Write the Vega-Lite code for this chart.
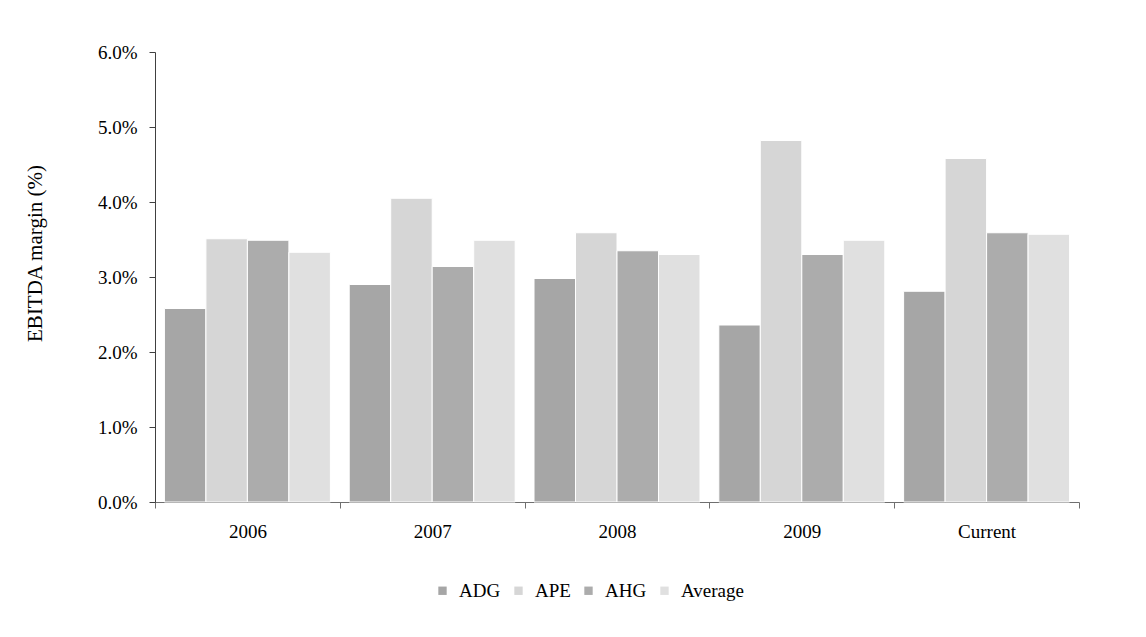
{
  "$schema": "https://vega.github.io/schema/vega-lite/v6.json",
  "autosize": {"type": "none"},
  "width": 924,
  "height": 450,
  "padding": {"left": 155, "top": 52, "right": 67, "bottom": 135},
  "background": "white",
  "config": {
    "font": "Liberation Serif",
    "view": {"stroke": null}
  },
  "data": {
    "values": [
      {"period": "2006", "series": "ADG", "margin": 0.0258},
      {"period": "2006", "series": "APE", "margin": 0.0351},
      {"period": "2006", "series": "AHG", "margin": 0.0349},
      {"period": "2006", "series": "Average", "margin": 0.0333},
      {"period": "2007", "series": "ADG", "margin": 0.0290},
      {"period": "2007", "series": "APE", "margin": 0.0405},
      {"period": "2007", "series": "AHG", "margin": 0.0314},
      {"period": "2007", "series": "Average", "margin": 0.0349},
      {"period": "2008", "series": "ADG", "margin": 0.0298},
      {"period": "2008", "series": "APE", "margin": 0.0359},
      {"period": "2008", "series": "AHG", "margin": 0.0335},
      {"period": "2008", "series": "Average", "margin": 0.0330},
      {"period": "2009", "series": "ADG", "margin": 0.0236},
      {"period": "2009", "series": "APE", "margin": 0.0482},
      {"period": "2009", "series": "AHG", "margin": 0.0330},
      {"period": "2009", "series": "Average", "margin": 0.0349},
      {"period": "Current", "series": "ADG", "margin": 0.0281},
      {"period": "Current", "series": "APE", "margin": 0.0458},
      {"period": "Current", "series": "AHG", "margin": 0.0359},
      {"period": "Current", "series": "Average", "margin": 0.0357}
    ]
  },
  "mark": {"type": "bar", "stroke": "white", "strokeWidth": 1},
  "encoding": {
    "x": {
      "field": "period",
      "type": "nominal",
      "sort": ["2006", "2007", "2008", "2009", "Current"],
      "scale": {"paddingInner": 0, "paddingOuter": 0},
      "axis": {
        "title": null,
        "tickBand": "extent",
        "labelAngle": 0,
        "labelFontSize": 19,
        "labelColor": "black",
        "domainColor": "#6f6f6f",
        "tickColor": "#6f6f6f",
        "tickSize": 6,
        "labelPadding": 14
      }
    },
    "xOffset": {
      "field": "series",
      "sort": ["ADG", "APE", "AHG", "Average"],
      "scale": {"paddingInner": 0, "paddingOuter": 0.227}
    },
    "y": {
      "field": "margin",
      "type": "quantitative",
      "scale": {"domain": [0, 0.06], "nice": false},
      "axis": {
        "values": [0, 0.01, 0.02, 0.03, 0.04, 0.05, 0.06],
        "format": ".1%",
        "grid": false,
        "title": "EBITDA margin (%)",
        "titleFontSize": 21,
        "titleFontWeight": "normal",
        "titleColor": "black",
        "titleX": -110,
        "titleY": 201,
        "labelFontSize": 19,
        "labelColor": "black",
        "labelPadding": 12,
        "tickSize": 6,
        "domainColor": "#404040",
        "tickColor": "#404040"
      }
    },
    "color": {
      "field": "series",
      "type": "nominal",
      "scale": {
        "domain": ["ADG", "APE", "AHG", "Average"],
        "range": ["#a6a6a6", "#d6d6d6", "#acacac", "#e0e0e0"]
      },
      "legend": {
        "title": null,
        "orient": "none",
        "direction": "horizontal",
        "legendX": 278,
        "legendY": 529,
        "symbolType": "square",
        "symbolSize": 70,
        "symbolStrokeWidth": 0,
        "labelFontSize": 19,
        "labelColor": "black",
        "columnPadding": 8,
        "labelOffset": 7
      }
    }
  }
}
